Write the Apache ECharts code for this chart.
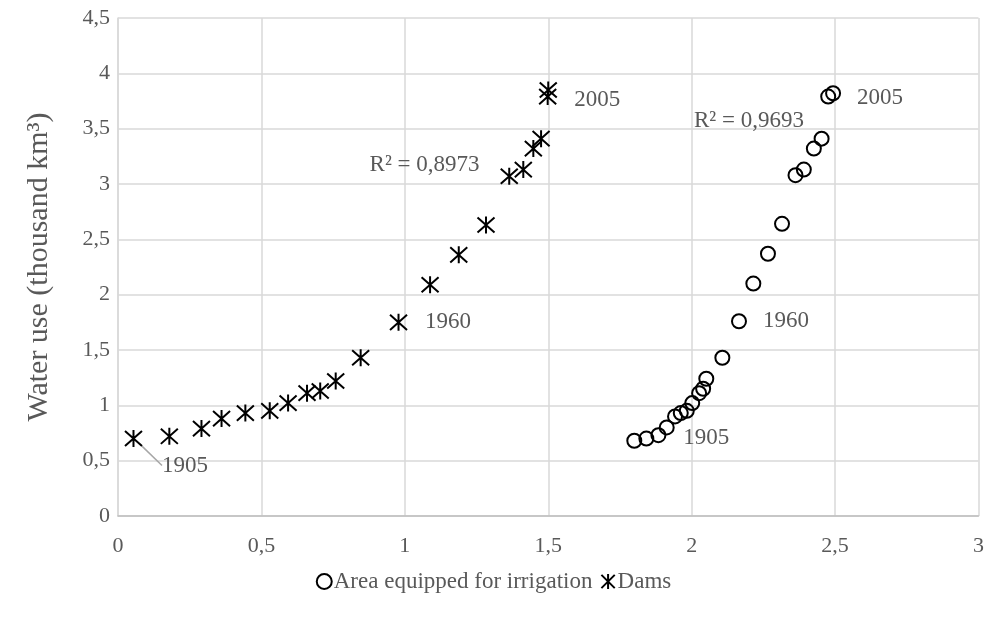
<!DOCTYPE html>
<html>
<head>
<meta charset="utf-8">
<script src="https://cdn.jsdelivr.net/npm/echarts@6/dist/echarts.min.js"></script>
<style>
  html, body { margin: 0; padding: 0; background: #fff; }
  #chart { width: 987px; height: 620px; }
</style>
</head>
<body>
<div id="chart"></div>
<script>
// values
const damsX = [0.054, 0.179, 0.291, 0.361, 0.444, 0.529, 0.593, 0.659, 0.705, 0.759, 0.846,
  0.978, 1.088, 1.188, 1.283, 1.364, 1.413, 1.448, 1.475, 1.498, 1.500];
const damsY = [0.70, 0.72, 0.79, 0.88, 0.93, 0.95, 1.02, 1.11, 1.13, 1.22, 1.43,
  1.75, 2.09, 2.36, 2.63, 3.07, 3.13, 3.32, 3.41, 3.79, 3.85];
const irrX = [1.800, 1.842, 1.884, 1.913, 1.942, 1.962, 1.983, 2.002, 2.026, 2.040, 2.051,
  2.107, 2.165, 2.215, 2.266, 2.315, 2.362, 2.391, 2.426, 2.453, 2.476, 2.493];
const irrY = [0.68, 0.70, 0.73, 0.80, 0.90, 0.93, 0.95, 1.02, 1.11, 1.15, 1.24,
  1.43, 1.76, 2.10, 2.37, 2.64, 3.08, 3.13, 3.32, 3.41, 3.79, 3.82];
const damsYears = { 0: '1905', 11: '1960', 19: '2005' };
const irrYears = { 0: '1905', 12: '1960', 21: '2005' };
const damsR2 = 'R² = 0,8973';
const irrR2 = 'R² = 0,9693';

const FONT = 'Liberation Serif';
const TXT = '#595959';
const STAR = 'path://M0,0L16,16M16,0L0,16M8,-1L8,17';

function buildData(xs, ys, years, lineAt) {
  return xs.map((x, i) => {
    const item = { value: [x, ys[i]] };
    if (years[i]) {
      item.label = { show: true, formatter: years[i] };
      item.labelLine = { show: i === lineAt };
    }
    return item;
  });
}

const comma = v => String(v).replace('.', ',');

// moved labels, as in the original
const irrMoves = { 0: { dx: 25, dy: -3 }, 21: { dx: 0, dy: 5 } };
const damsMoves = { 0: { dx: 2, dy: 27 }, 19: { dx: 0, dy: 3 } };

const yearLabel = {
  position: 'right', fontFamily: FONT, fontSize: 23, color: TXT, opacity: 1
};

const chart = echarts.init(document.getElementById('chart'));
chart.setOption({
  backgroundColor: '#ffffff',
  animation: false,
  textStyle: { fontFamily: FONT },
  grid: { left: 118, right: 7, top: 18, bottom: 104 },
  legend: {
    bottom: 22,
    left: 'center',
    itemWidth: 15,
    itemHeight: 15,
    itemGap: 8,
    textStyle: { fontFamily: FONT, fontSize: 23, color: TXT, padding: [0, 0, 0, -3] },
    data: ['Area equipped for irrigation', 'Dams']
  },
  xAxis: {
    type: 'value',
    min: 0, max: 3, interval: 0.5,
    axisLine: { show: true, lineStyle: { color: '#bfbfbf', width: 1.5 } },
    axisTick: { show: false },
    axisLabel: { fontFamily: FONT, fontSize: 22, color: TXT, margin: 19, formatter: comma },
    splitLine: { show: true, lineStyle: { color: '#d9d9d9', width: 1.5 } }
  },
  yAxis: {
    type: 'value',
    min: 0, max: 4.5, interval: 0.5,
    name: 'Water use (thousand km³)',
    nameLocation: 'middle',
    nameGap: 64,
    nameTextStyle: { fontFamily: FONT, fontSize: 30, color: TXT },
    axisLine: { show: true, lineStyle: { color: '#d9d9d9', width: 1.5 } },
    axisTick: { show: false },
    axisLabel: { fontFamily: FONT, fontSize: 22, color: TXT, margin: 8, formatter: comma },
    splitLine: { show: true, lineStyle: { color: '#d9d9d9', width: 1.5 } }
  },
  series: [{
    name: 'Area equipped for irrigation',
    type: 'scatter',
    symbol: 'circle',
    symbolSize: 14,
    itemStyle: { color: 'rgba(255,255,255,0)', borderColor: '#000', borderWidth: 2, opacity: 1 },
    label: Object.assign({ distance: 16 }, yearLabel),
    labelLine: { show: false },
    labelLayout: p => irrMoves[p.dataIndex] || {},
    data: buildData(irrX, irrY, irrYears, -1),
    markPoint: {
      symbol: 'circle', symbolSize: 0,
      label: { show: true, position: 'right', distance: 0, fontFamily: FONT, fontSize: 23, color: TXT, formatter: irrR2 },
      data: [{ coord: [2.008, 3.57] }]
    }
  }, {
    name: 'Dams',
    type: 'scatter',
    symbol: STAR,
    symbolSize: 17,
    itemStyle: { color: 'rgba(255,255,255,0)', borderColor: '#000', borderWidth: 2, opacity: 1 },
    label: Object.assign({ distance: 17 }, yearLabel),
    labelLine: { show: false, lineStyle: { color: '#a6a6a6', width: 1.5 } },
    labelLayout: p => damsMoves[p.dataIndex] || {},
    data: buildData(damsX, damsY, damsYears, 0),
    markPoint: {
      symbol: 'circle', symbolSize: 0,
      label: { show: true, position: 'right', distance: 0, fontFamily: FONT, fontSize: 23, color: TXT, formatter: damsR2 },
      data: [{ coord: [0.877, 3.17] }]
    }
  }]
});
</script>
</body>
</html>
